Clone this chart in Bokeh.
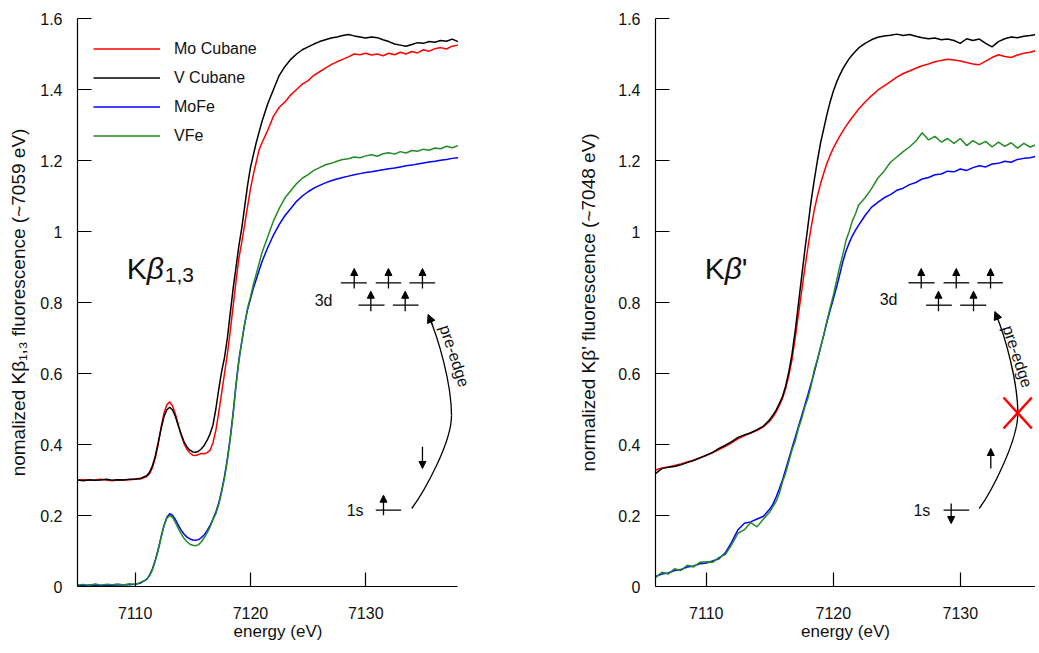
from bokeh.plotting import figure
from bokeh.layouts import row
from bokeh.models import (Range1d, FixedTicker, Arrow, NormalHead, Legend, LegendItem,
                          ColumnDataSource, Label)
from bokeh.core.properties import value
from bokeh.embed import file_html
from bokeh.resources import INLINE

# ---------------- data ----------------
X_TICKS = [7110, 7120, 7130]
Y_TICKS = [0, 0.2, 0.4, 0.6, 0.8, 1.0, 1.2, 1.4, 1.6]
Y_TICK_LABELS = ["0", "0.2", "0.4", "0.6", "0.8", "1", "1.2", "1.4", "1.6"]
SERIES = ["Mo Cubane", "V Cubane", "MoFe", "VFe"]

# left panel: K-beta 1,3 detected
energy_left = [
    7105.0, 7105.5, 7106.0, 7106.5, 7107.0, 7107.5, 7108.0, 7108.5, 7109.0, 7109.5, 7110.0, 7110.5,
    7111.0, 7111.25, 7111.5, 7111.75, 7112.0, 7112.25, 7112.5, 7112.75, 7113.0, 7113.25, 7113.5, 7113.75,
    7114.0, 7114.25, 7114.5, 7114.75, 7115.0, 7115.25, 7115.5, 7115.75, 7116.0, 7116.25, 7116.5, 7116.75,
    7117.0, 7117.25, 7117.5, 7117.75, 7118.0, 7118.25, 7118.5, 7118.75, 7119.0, 7119.25, 7119.5, 7119.75,
    7120.0, 7120.25, 7120.5, 7120.75, 7121.0, 7121.5, 7122.0, 7122.5, 7123.0, 7123.5, 7124.0, 7124.5,
    7125.0, 7125.5, 7126.0, 7126.5, 7127.0, 7127.5, 7128.0, 7128.5, 7129.0, 7129.5, 7130.0, 7130.5,
    7131.0, 7131.5, 7132.0, 7132.5, 7133.0, 7133.5, 7134.0, 7134.5, 7135.0, 7135.5, 7136.0, 7136.5,
    7137.0, 7137.5, 7138.0]

mo_cubane_left = [
    0.300, 0.301, 0.299, 0.300, 0.302, 0.300, 0.298, 0.301, 0.300, 0.301, 0.302, 0.303,
    0.310, 0.318, 0.335, 0.362, 0.402, 0.448, 0.488, 0.512, 0.520, 0.508, 0.485, 0.455,
    0.425, 0.402, 0.386, 0.376, 0.370, 0.369, 0.372, 0.375, 0.374, 0.377, 0.384, 0.405,
    0.440, 0.490, 0.545, 0.600, 0.655, 0.720, 0.790, 0.860, 0.925, 0.970, 1.020, 1.070,
    1.120, 1.160, 1.195, 1.230, 1.250, 1.285, 1.325, 1.350, 1.365, 1.385, 1.400, 1.415,
    1.425, 1.440, 1.450, 1.460, 1.470, 1.478, 1.485, 1.492, 1.500, 1.498, 1.502, 1.497,
    1.500, 1.495, 1.502, 1.498, 1.505, 1.500, 1.507, 1.503, 1.512, 1.508, 1.515, 1.518,
    1.514, 1.522, 1.525]

v_cubane_left = [
    0.300, 0.298, 0.301, 0.299, 0.300, 0.302, 0.299, 0.301, 0.300, 0.302, 0.303, 0.305,
    0.312, 0.322, 0.340, 0.368, 0.405, 0.445, 0.478, 0.498, 0.505, 0.497, 0.478, 0.452,
    0.428, 0.407, 0.393, 0.384, 0.379, 0.378, 0.381, 0.388, 0.398, 0.412, 0.430, 0.455,
    0.500, 0.555, 0.605, 0.645, 0.700, 0.770, 0.840, 0.900, 0.960, 1.010, 1.070, 1.130,
    1.180, 1.215, 1.250, 1.280, 1.310, 1.360, 1.400, 1.440, 1.465, 1.485, 1.500, 1.512,
    1.520, 1.528, 1.535, 1.540, 1.545, 1.548, 1.552, 1.555, 1.551, 1.548, 1.545, 1.548,
    1.546, 1.540, 1.535, 1.528, 1.525, 1.522, 1.527, 1.532, 1.530, 1.535, 1.533, 1.538,
    1.536, 1.542, 1.535]

mofe_left = [
    0.003, 0.002, 0.004, 0.003, 0.002, 0.004, 0.003, 0.005, 0.004, 0.005, 0.006, 0.010,
    0.020, 0.032, 0.050, 0.075, 0.105, 0.140, 0.172, 0.195, 0.205, 0.200, 0.188, 0.172,
    0.158, 0.147, 0.139, 0.134, 0.131, 0.130, 0.132, 0.138, 0.146, 0.158, 0.172, 0.190,
    0.210, 0.235, 0.270, 0.310, 0.360, 0.420, 0.490, 0.570, 0.640, 0.690, 0.740, 0.780,
    0.810, 0.840, 0.865, 0.890, 0.915, 0.955, 0.990, 1.020, 1.045, 1.065, 1.085, 1.100,
    1.112, 1.122, 1.130, 1.137, 1.143, 1.148, 1.152, 1.156, 1.160, 1.163, 1.166, 1.168,
    1.171, 1.174, 1.177, 1.179, 1.182, 1.185, 1.187, 1.190, 1.193, 1.196, 1.198, 1.201,
    1.203, 1.206, 1.208]

vfe_left = [
    0.004, 0.006, 0.003, 0.007, 0.004, 0.006, 0.005, 0.007, 0.004, 0.008, 0.006, 0.012,
    0.020, 0.030, 0.047, 0.072, 0.102, 0.137, 0.170, 0.192, 0.200, 0.195, 0.180, 0.163,
    0.148, 0.135, 0.126, 0.119, 0.116, 0.115, 0.118, 0.126, 0.138, 0.152, 0.168, 0.188,
    0.205, 0.230, 0.265, 0.305, 0.355, 0.415, 0.485, 0.565, 0.635, 0.690, 0.740, 0.785,
    0.815, 0.850, 0.880, 0.910, 0.940, 0.985, 1.030, 1.065, 1.095, 1.115, 1.135, 1.150,
    1.160, 1.172, 1.180, 1.188, 1.192, 1.198, 1.203, 1.205, 1.210, 1.208, 1.213, 1.216,
    1.212, 1.219, 1.222, 1.218, 1.225, 1.221, 1.228, 1.226, 1.232, 1.229, 1.235, 1.233,
    1.240, 1.236, 1.242]

# right panel: K-beta' detected
energy_right = [
    7106.0, 7106.5, 7107.0, 7107.5, 7108.0, 7108.5, 7109.0, 7109.5, 7110.0, 7110.5, 7111.0, 7111.5,
    7112.0, 7112.5, 7113.0, 7113.5, 7114.0, 7114.5, 7115.0, 7115.25, 7115.5, 7115.75, 7116.0, 7116.25,
    7116.5, 7116.75, 7117.0, 7117.25, 7117.5, 7117.75, 7118.0, 7118.25, 7118.5, 7118.75, 7119.0, 7119.25,
    7119.5, 7119.75, 7120.0, 7120.25, 7120.5, 7120.75, 7121.0, 7121.25, 7121.5, 7121.75, 7122.0, 7122.5,
    7123.0, 7123.5, 7124.0, 7124.5, 7125.0, 7125.5, 7126.0, 7126.5, 7127.0, 7127.5, 7128.0, 7128.5,
    7129.0, 7129.5, 7130.0, 7130.5, 7131.0, 7131.5, 7132.0, 7132.5, 7133.0, 7133.5, 7134.0, 7134.5,
    7135.0, 7135.5, 7136.0]

mo_cubane_right = [
    0.328, 0.334, 0.337, 0.341, 0.345, 0.351, 0.356, 0.363, 0.369, 0.377, 0.386, 0.395,
    0.405, 0.416, 0.425, 0.432, 0.440, 0.450, 0.466, 0.478, 0.492, 0.510, 0.530, 0.558,
    0.595, 0.640, 0.700, 0.765, 0.830, 0.895, 0.955, 1.010, 1.060, 1.100, 1.135, 1.165,
    1.192, 1.215, 1.235, 1.252, 1.268, 1.283, 1.297, 1.310, 1.322, 1.333, 1.345, 1.365,
    1.382, 1.398, 1.410, 1.422, 1.435, 1.445, 1.452, 1.460, 1.467, 1.472, 1.478, 1.482,
    1.485, 1.483, 1.480, 1.476, 1.472, 1.470, 1.480, 1.490, 1.498, 1.493, 1.490, 1.497,
    1.502, 1.505, 1.510]

v_cubane_right = [
    0.318, 0.332, 0.336, 0.338, 0.343, 0.349, 0.355, 0.362, 0.370, 0.378, 0.389, 0.398,
    0.408, 0.420, 0.427, 0.433, 0.442, 0.452, 0.470, 0.483, 0.497, 0.515, 0.535, 0.565,
    0.605, 0.655, 0.720, 0.795, 0.870, 0.945, 1.015, 1.085, 1.145, 1.200, 1.250, 1.290,
    1.330, 1.365, 1.395, 1.420, 1.440, 1.458, 1.473, 1.487, 1.498, 1.508, 1.517, 1.530,
    1.540, 1.547, 1.551, 1.553, 1.556, 1.552, 1.555, 1.550, 1.546, 1.543, 1.545, 1.540,
    1.542, 1.538, 1.530, 1.543, 1.538, 1.542, 1.530, 1.520, 1.535, 1.543, 1.548, 1.546,
    1.550, 1.552, 1.555]

mofe_right = [
    0.028, 0.035, 0.038, 0.045, 0.048, 0.055, 0.058, 0.064, 0.066, 0.072, 0.078, 0.095,
    0.125, 0.160, 0.178, 0.182, 0.190, 0.198, 0.218, 0.232, 0.252, 0.275, 0.300, 0.330,
    0.360, 0.390, 0.420, 0.450, 0.480, 0.510, 0.540, 0.572, 0.603, 0.638, 0.675, 0.708,
    0.745, 0.778, 0.810, 0.842, 0.878, 0.915, 0.945, 0.968, 0.988, 1.004, 1.018, 1.045,
    1.068, 1.082, 1.095, 1.104, 1.116, 1.122, 1.132, 1.138, 1.148, 1.152, 1.160, 1.162,
    1.170, 1.168, 1.176, 1.172, 1.180, 1.185, 1.182, 1.190, 1.192, 1.198, 1.195, 1.203,
    1.206, 1.208, 1.212]

vfe_right = [
    0.025, 0.040, 0.035, 0.050, 0.045, 0.060, 0.055, 0.068, 0.070, 0.068, 0.082, 0.090,
    0.118, 0.150, 0.160, 0.180, 0.168, 0.190, 0.210, 0.225, 0.240, 0.262, 0.295, 0.320,
    0.352, 0.385, 0.410, 0.445, 0.472, 0.505, 0.530, 0.565, 0.610, 0.640, 0.672, 0.710,
    0.748, 0.785, 0.820, 0.860, 0.900, 0.935, 0.975, 1.000, 1.030, 1.050, 1.075, 1.095,
    1.120, 1.150, 1.170, 1.195, 1.210, 1.225, 1.238, 1.255, 1.278, 1.258, 1.268, 1.252,
    1.262, 1.248, 1.262, 1.242, 1.256, 1.245, 1.254, 1.238, 1.252, 1.240, 1.250, 1.235,
    1.248, 1.238, 1.245]

# ---------------- styling ----------------
FONT = "Liberation Sans"
COLORS = ["#ff0000", "#000000", "#0000ff", "#228b22"]
TEXT_COLOR = "#111111"
H = 643


def make_fig(width, x_range, x_bounds, min_left, min_right, ylabel, ylabel_standoff):
    p = figure(width=width, height=H, x_range=x_range, y_range=Range1d(0, 1.6),
               output_backend="svg", toolbar_location=None,
               min_border_left=min_left, min_border_right=min_right,
               min_border_top=18, min_border_bottom=57)
    p.outline_line_color = None
    p.grid.visible = False
    p.background_fill_color = "white"
    p.border_fill_color = "white"
    for ax in (p.xaxis[0], p.yaxis[0]):
        ax.major_tick_in = 14
        ax.major_tick_out = 0
        ax.minor_tick_line_color = None
        ax.axis_line_color = "black"
        ax.axis_line_width = 1.2
        ax.major_tick_line_color = "black"
        ax.major_tick_line_width = 1.2
        ax.major_label_text_font = FONT
        ax.major_label_text_font_size = "16px"
        ax.major_label_text_color = TEXT_COLOR
        ax.axis_label_text_font = FONT
        ax.axis_label_text_font_style = "normal"
        ax.axis_label_text_color = TEXT_COLOR
    p.xaxis.bounds = x_bounds
    p.xaxis.axis_label_text_font_size = "17px"
    p.yaxis.axis_label_text_font_size = "19px"
    p.xaxis.ticker = FixedTicker(ticks=X_TICKS)
    p.yaxis.ticker = FixedTicker(ticks=Y_TICKS)
    p.yaxis.major_label_overrides = dict(zip(Y_TICKS, Y_TICK_LABELS))
    p.xaxis.axis_label = "energy (eV)"
    p.xaxis.major_label_standoff = 20
    p.xaxis.axis_label_standoff = 0
    p.yaxis.major_label_standoff = 15
    p.yaxis.axis_label = ylabel
    p.yaxis.axis_label_standoff = ylabel_standoff
    return p


def draw_curves(p, energy, series_values):
    rs = []
    for vals, color in zip(series_values, COLORS):
        rs.append(p.line(energy, vals, line_color=color, line_width=1.5))
    return rs


def draw_diagram(p, d):
    # orbital levels
    p.segment(x0=d["lev_x0"], x1=d["lev_x1"], y0=d["lev_y"], y1=d["lev_y"],
              line_color="black", line_width=1.3)
    # spin arrows
    src = ColumnDataSource(dict(xs=d["spin_x"], ys=d["spin_y0"], xe=d["spin_x"], ye=d["spin_y1"]))
    p.add_layout(Arrow(x_start="xs", y_start="ys", x_end="xe", y_end="ye", source=src,
                       line_color="black", line_width=1.3,
                       end=NormalHead(size=7, fill_color="black", line_color="black", line_width=1)))
    # level labels
    p.text(x=d["lab_x"], y=d["lab_y"], text=["3d", "1s"], text_font=value(FONT),
           text_font_size=value("16px"), text_align="center", text_baseline="middle",
           text_color=TEXT_COLOR)
    # curved transition arrow
    for b in d["bez"]:
        p.bezier(x0=[b[0]], y0=[b[1]], x1=[b[2]], y1=[b[3]], cx0=[b[4]], cy0=[b[5]],
                 cx1=[b[6]], cy1=[b[7]], line_color="black", line_width=1.3)
    h = d["head"]
    p.add_layout(Arrow(x_start=h[0], y_start=h[1], x_end=h[2], y_end=h[3],
                       line_color="black", line_width=1.3,
                       end=NormalHead(size=8, fill_color="black", line_color="black", line_width=1)))
    p.add_layout(Label(x=d["pre"][0], y=d["pre"][1], text="pre-edge", angle=-1.25,
                       text_font=FONT, text_font_size="16px", text_align="center",
                       text_baseline="middle", text_color=TEXT_COLOR))


# ---------------- left panel ----------------
left = make_fig(548, Range1d(7105, 7139.78), (7105, 7138), 77, 70,
                "nomalized K\u03b2\u2081,\u2083 fluorescence (~7059 eV)", 8)
rl = draw_curves(left, energy_left, [mo_cubane_left, v_cubane_left, mofe_left, vfe_left])
legend = Legend(items=[LegendItem(label=s, renderers=[r]) for s, r in zip(SERIES, rl)],
                location="top_left", border_line_color=None, background_fill_alpha=0,
                padding=15, margin=16, spacing=0, glyph_width=67, glyph_height=29,
                label_height=29, label_standoff=14, label_text_font=FONT,
                label_text_font_size="16px", label_text_color=TEXT_COLOR)
left.add_layout(legend)

diag_left = dict(
    lev_x0=[7127.84, 7130.87, 7133.79, 7129.37, 7132.35, 7130.87],
    lev_x1=[7130.09, 7133.07, 7136.02, 7131.63, 7134.58, 7133.07],
    lev_y=[0.8555, 0.8555, 0.8555, 0.7924, 0.7924, 0.215],
    spin_x=[7129.0, 7131.97, 7134.92, 7130.44, 7133.42, 7131.54, 7134.92],
    spin_y0=[0.8394, 0.8394, 0.8394, 0.7755, 0.7755, 0.2008, 0.3935],
    spin_y1=[0.8958, 0.8958, 0.8958, 0.8318, 0.8318, 0.2572, 0.3324],
    lab_x=[7126.34, 7129.08], lab_y=[0.806, 0.215],
    bez=[(7133.99, 0.2197, 7137.44, 0.4817, 7135.01, 0.2648, 7137.44, 0.4028),
         (7137.44, 0.4817, 7135.44, 0.7634, 7137.44, 0.5718, 7136.31, 0.6986)],
    head=(7135.82, 0.7352, 7135.40, 0.7660),
    pre=(7137.70, 0.6493),
)
draw_diagram(left, diag_left)

left.text(x=[7109.28], y=[0.8958], text=["K"], text_font=value(FONT), text_font_size=value("30px"),
          text_align="left", text_baseline="alphabetic", text_color=TEXT_COLOR)
left.text(x=[7109.28], y=[0.8958], text=["\u03b2"], x_offset=20, text_font=value(FONT),
          text_font_size=value("30px"), text_font_style="italic", text_align="left",
          text_baseline="alphabetic", text_color=TEXT_COLOR)
left.text(x=[7109.28], y=[0.8958], text=["1,3"], x_offset=38, y_offset=7, text_font=value(FONT),
          text_font_size=value("21px"), text_align="left", text_baseline="alphabetic",
          text_color=TEXT_COLOR)

# ---------------- right panel ----------------
right = make_fig(487, Range1d(7106, 7135.92), "auto", 107, 0,
                 "normalized K\u03b2' fluorescence (~7048 eV)", 16)
draw_curves(right, energy_right, [mo_cubane_right, v_cubane_right, mofe_right, vfe_right])

diag_right = dict(
    lev_x0=[7125.92, 7128.68, 7131.35, 7127.31, 7129.99, 7128.68],
    lev_x1=[7127.97, 7130.70, 7133.35, 7129.33, 7132.04, 7130.70],
    lev_y=[0.8555, 0.8555, 0.8555, 0.7924, 0.7924, 0.215],
    spin_x=[7126.92, 7129.68, 7132.38, 7128.28, 7131.04, 7129.28, 7132.40],
    spin_y0=[0.8394, 0.8394, 0.8394, 0.7755, 0.7755, 0.2338, 0.3324],
    spin_y1=[0.8958, 0.8958, 0.8958, 0.8318, 0.8318, 0.1775, 0.3887],
    lab_x=[7124.35, 7126.97], lab_y=[0.8093, 0.215],
    bez=[(7131.49, 0.2197, 7134.53, 0.4873, 7132.41, 0.2648, 7134.53, 0.4085),
         (7134.53, 0.4873, 7132.75, 0.7718, 7134.53, 0.5775, 7133.54, 0.7042)],
    head=(7132.98, 0.7521, 7132.72, 0.7745),
    pre=(7134.50, 0.6479),
)
draw_diagram(right, diag_right)
# red cross: forbidden transition
right.segment(x0=[7133.40, 7133.40], y0=[0.5324, 0.4451], x1=[7135.63, 7135.63], y1=[0.4451, 0.5324],
              line_color="#ff0000", line_width=2.5)

right.text(x=[7109.88], y=[0.8958], text=["K"], text_font=value(FONT), text_font_size=value("30px"),
           text_align="left", text_baseline="alphabetic", text_color=TEXT_COLOR)
right.text(x=[7109.88], y=[0.8958], text=["\u03b2"], x_offset=20, text_font=value(FONT),
           text_font_size=value("30px"), text_font_style="italic", text_align="left",
           text_baseline="alphabetic", text_color=TEXT_COLOR)
right.text(x=[7109.88], y=[0.8958], text=["'"], x_offset=37, text_font=value(FONT),
           text_font_size=value("30px"), text_align="left", text_baseline="alphabetic",
           text_color=TEXT_COLOR)

layout = row(left, right)
open("out.html", "w").write(file_html(layout, INLINE))
